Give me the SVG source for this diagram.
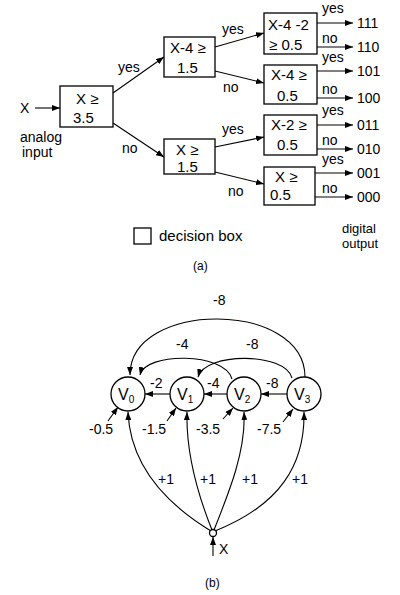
<svg xmlns="http://www.w3.org/2000/svg" width="400" height="595" viewBox="0 0 400 595">
<defs>
<marker id="ah" markerWidth="8" markerHeight="6" refX="8" refY="3" orient="auto" markerUnits="userSpaceOnUse">
<path d="M0,0 L8,3 L0,6 z" fill="#000"/>
</marker>
<style>
text{font-family:"Liberation Sans",Arial,sans-serif;font-size:14px;fill:#000}
.bt{font-size:15px}
.box{fill:#fff;stroke:#000;stroke-width:1.3}
.c{fill:#fff;stroke:#000;stroke-width:1.3}
.ln{fill:none;stroke:#000;stroke-width:1.1}
.ar{fill:none;stroke:#000;stroke-width:1.1;marker-end:url(#ah)}
.sub{font-size:10px}
</style>
</defs>
<rect width="400" height="595" fill="#fff"/>

<g id="connectors">
<line class="ar" x1="35" y1="108" x2="60" y2="108"/>
<line class="ar" x1="113" y1="93" x2="164" y2="57"/>
<line class="ar" x1="113" y1="123" x2="164" y2="157"/>
<line class="ar" x1="215" y1="47" x2="264" y2="33"/>
<line class="ar" x1="215" y1="71" x2="264" y2="83"/>
<line class="ar" x1="215" y1="147" x2="264" y2="137"/>
<line class="ar" x1="215" y1="172" x2="264" y2="184"/>
<line class="ar" x1="317" y1="23" x2="353" y2="23"/>
<line class="ar" x1="317" y1="47" x2="353" y2="47"/>
<line class="ar" x1="317" y1="71" x2="353" y2="71"/>
<line class="ar" x1="317" y1="98" x2="353" y2="98"/>
<line class="ar" x1="317" y1="125" x2="353" y2="125"/>
<line class="ar" x1="317" y1="149" x2="353" y2="149"/>
<line class="ar" x1="315" y1="173" x2="353" y2="173"/>
<line class="ar" x1="315" y1="197" x2="353" y2="197"/>
<!-- part b -->
<line class="ar" x1="170" y1="394" x2="145" y2="394"/>
<line class="ar" x1="227" y1="394" x2="204" y2="394"/>
<line class="ar" x1="287" y1="394" x2="261" y2="394"/>
<path class="ar" d="M305,377 C305,300 130,300 130,375"/>
<path class="ar" d="M232,379 C225,352 145,352 140,375"/>
<path class="ar" d="M292,378 C285,352 205,352 198,377"/>
<line class="ar" x1="108" y1="421" x2="118" y2="407"/>
<line class="ar" x1="167" y1="421" x2="176" y2="408"/>
<line class="ar" x1="223" y1="419" x2="233" y2="408"/>
<line class="ar" x1="283" y1="422" x2="293" y2="409"/>
<path class="ar" d="M211,531 C160,500 130,460 128,412"/>
<path class="ar" d="M212,530 C196,490 186,450 187,412"/>
<path class="ar" d="M214,530 C230,490 246,450 244,412"/>
<path class="ar" d="M215,531 C280,505 305,465 304,412"/>
<line class="ar" x1="213" y1="556" x2="213" y2="537"/>
</g>

<g id="labels-a">
<text x="20" y="113">X</text>
<text x="20" y="142">analog</text>
<text x="22" y="157">input</text>
<text x="118" y="72">yes</text>
<text x="122" y="153">no</text>
<text x="222" y="34">yes</text>
<text x="223" y="92">no</text>
<text x="222" y="134">yes</text>
<text x="228" y="196">no</text>
<text x="322" y="13">yes</text>
<text x="322" y="43">no</text>
<text x="322" y="62">yes</text>
<text x="322" y="94">no</text>
<text x="322" y="115">yes</text>
<text x="322" y="145">no</text>
<text x="322" y="164">yes</text>
<text x="322" y="193">no</text>
<text x="357" y="28">111</text>
<text x="357" y="52">110</text>
<text x="357" y="76">101</text>
<text x="357" y="103">100</text>
<text x="357" y="130">011</text>
<text x="357" y="154">010</text>
<text x="357" y="178">001</text>
<text x="357" y="202">000</text>
<text x="342" y="233" style="font-size:13px">digital</text>
<text x="342" y="248" style="font-size:13px">output</text>
<text x="193" y="270" style="font-size:12px">(a)</text>
</g>

<g id="box1"><rect class="box" x="60" y="86" width="53" height="41"/><text class="bt" x="76" y="104">X ≥</text><text class="bt" x="73" y="123">3.5</text></g>
<g id="box2"><rect class="box" x="164" y="37" width="51" height="40"/><text class="bt" x="170" y="53">X-4 ≥</text><text class="bt" x="177" y="73">1.5</text></g>
<g id="box3"><rect class="box" x="164" y="139" width="51" height="35"/><text class="bt" x="176" y="155">X ≥</text><text class="bt" x="177" y="172">1.5</text></g>
<g id="box4"><rect class="box" x="264" y="13" width="53" height="41"/><text class="bt" x="268" y="30">X-4 -2</text><text class="bt" x="269" y="50">≥ 0.5</text></g>
<g id="box5"><rect class="box" x="264" y="65" width="53" height="39"/><text class="bt" x="271" y="80">X-4 ≥</text><text class="bt" x="277" y="101">0.5</text></g>
<g id="box6"><rect class="box" x="264" y="115" width="53" height="40"/><text class="bt" x="271" y="130">X-2 ≥</text><text class="bt" x="277" y="150">0.5</text></g>
<g id="box7"><rect class="box" x="264" y="167" width="51" height="38"/><text class="bt" x="275" y="182">X ≥</text><text class="bt" x="270" y="200">0.5</text></g>
<g id="legend"><rect class="box" x="134" y="228" width="17" height="16"/><text x="159" y="241" style="font-size:15px">decision box</text></g>

<g id="labels-b">
<text x="213" y="305">-8</text>
<text x="176" y="349">-4</text>
<text x="246" y="349">-8</text>
<text x="150" y="388">-2</text>
<text x="207" y="388">-4</text>
<text x="266" y="388">-8</text>
<text x="89" y="434">-0.5</text>
<text x="142" y="434">-1.5</text>
<text x="196" y="434">-3.5</text>
<text x="257" y="434">-7.5</text>
<text x="158" y="484">+1</text>
<text x="200" y="484">+1</text>
<text x="242" y="484">+1</text>
<text x="292" y="484">+1</text>
<text x="219" y="554">X</text>
<text x="205" y="587" style="font-size:12px">(b)</text>
</g>

<g id="V0"><circle class="c" cx="128" cy="394" r="17"/><text x="118" y="400" style="font-size:16px">V<tspan class="sub" dy="3">0</tspan></text></g>
<g id="V1"><circle class="c" cx="187" cy="394" r="17"/><text x="177" y="400" style="font-size:16px">V<tspan class="sub" dy="3">1</tspan></text></g>
<g id="V2"><circle class="c" cx="244" cy="394" r="17"/><text x="234" y="400" style="font-size:16px">V<tspan class="sub" dy="3">2</tspan></text></g>
<g id="V3"><circle class="c" cx="304" cy="394" r="17"/><text x="294" y="400" style="font-size:16px">V<tspan class="sub" dy="3">3</tspan></text></g>
<g id="Xnode"><circle class="c" cx="213" cy="533" r="3.5"/></g>
</svg>
